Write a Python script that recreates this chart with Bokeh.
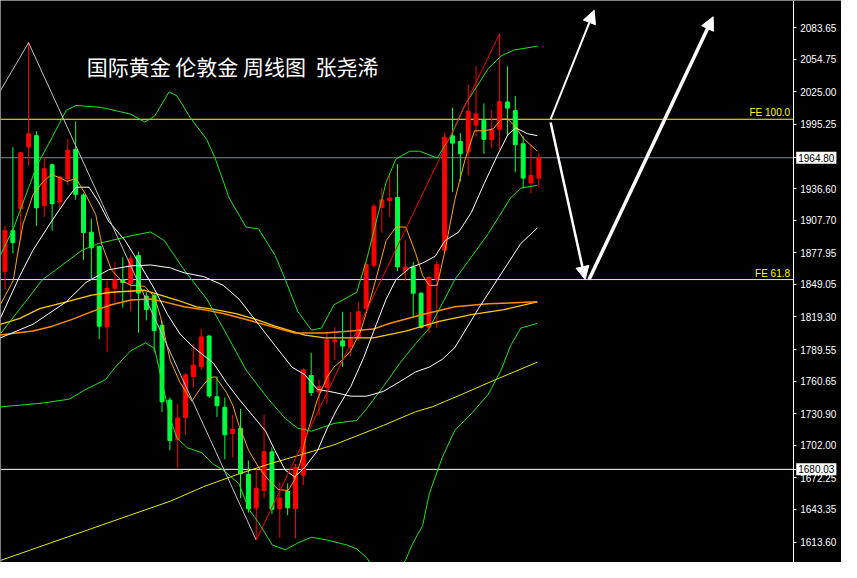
from bokeh.plotting import figure
from bokeh.models import (Range1d, Label, Arrow, NormalHead, FixedTicker,
                          NumeralTickFormatter, ColumnDataSource)
from bokeh.embed import file_html
from bokeh.resources import INLINE

# ---------------- candle data (weekly XAUUSD) ----------------
opens = [1860.6, 1898.2, 1918.1, 1974.6, 1985.0, 1921.0, 1958.4, 1924.3, 1945.6, 1972.3,
         1930.8, 1896.8, 1883.7, 1810.2, 1845.5, 1853.2, 1849.9, 1875.4, 1838.4, 1838.8,
         1811.7, 1743.3, 1707.1, 1727.3, 1764.9, 1773.8, 1801.9, 1746.4, 1736.8, 1712.8,
         1717.6, 1675.5, 1644.7, 1660.7, 1696.0, 1644.0, 1659.8, 1644.0, 1674.6, 1765.8,
         1750.7, 1755.0, 1796.6, 1797.5, 1792.2, 1800.4, 1827.1, 1866.5, 1919.5, 1925.8,
         1928.4, 1861.2, 1865.0, 1841.0, 1809.9, 1853.8, 1880.4, 1984.8, 1979.7, 1970.2,
         1994.6, 1999.0, 1981.2, 1990.6, 2015.8, 2007.9, 1977.6, 1941.8, 1946.2]
highs = [1902.6, 1974.4, 1969.9, 2070.0, 1989.2, 1965.5, 1959.5, 1948.0, 1981.7, 1998.1,
         1932.3, 1909.2, 1884.5, 1852.6, 1869.5, 1873.9, 1875.7, 1879.0, 1841.9, 1840.4,
         1815.3, 1745.7, 1739.8, 1767.9, 1794.6, 1808.4, 1802.6, 1764.9, 1745.7, 1730.0,
         1735.3, 1688.0, 1680.2, 1730.0, 1700.4, 1668.7, 1667.2, 1684.9, 1772.4, 1786.6,
         1762.0, 1804.0, 1809.9, 1824.0, 1824.0, 1833.0, 1869.5, 1922.5, 1936.8, 1948.6,
         1959.0, 1889.3, 1869.5, 1841.9, 1856.8, 1870.1, 1987.7, 2010.4, 1987.4, 2031.5,
         2048.4, 2014.4, 2008.7, 2078.3, 2048.4, 2021.2, 1984.8, 1976.7, 1969.3]
lows = [1844.9, 1877.5, 1889.3, 1957.4, 1902.6, 1910.6, 1898.2, 1917.5, 1939.7, 1926.4,
        1871.5, 1852.9, 1799.0, 1787.1, 1832.2, 1827.7, 1824.2, 1804.9, 1816.2, 1786.9,
        1732.4, 1697.4, 1681.4, 1711.6, 1754.6, 1770.9, 1745.1, 1728.0, 1689.4, 1690.9,
        1653.8, 1640.5, 1615.4, 1653.5, 1639.1, 1617.4, 1638.2, 1616.9, 1665.7, 1747.1,
        1729.4, 1739.8, 1779.7, 1773.7, 1783.5, 1797.5, 1825.1, 1864.2, 1896.1, 1910.6,
        1861.2, 1852.3, 1818.2, 1808.8, 1804.9, 1809.3, 1878.4, 1933.7, 1943.2, 1948.6,
        1984.1, 1968.4, 1973.7, 1972.3, 1985.0, 1951.5, 1936.8, 1932.3, 1938.2]
closes = [1898.2, 1887.3, 1969.3, 1986.8, 1919.0, 1954.8, 1922.8, 1947.1, 1971.7, 1931.4,
          1896.4, 1882.5, 1810.9, 1845.5, 1853.2, 1850.8, 1872.4, 1841.1, 1826.2, 1806.8,
          1741.8, 1706.3, 1727.0, 1766.4, 1775.3, 1801.1, 1747.1, 1738.2, 1711.6, 1716.6,
          1676.1, 1644.0, 1662.7, 1696.2, 1643.5, 1653.8, 1644.9, 1682.0, 1770.9, 1750.2,
          1755.4, 1798.4, 1798.1, 1792.7, 1798.7, 1824.0, 1867.1, 1920.4, 1926.4, 1927.9,
          1865.0, 1865.0, 1841.0, 1809.9, 1855.3, 1867.1, 1983.5, 1978.1, 1968.4, 2007.2,
          2004.9, 1981.7, 1990.1, 2016.1, 2010.2, 1976.7, 1946.2, 1948.6, 1964.8]

# ---------------- indicator lines (bar index, price) ----------------
ma5_idx = [-0.6, 1.05, 1.55, 2.3, 3.55, 4.8, 5.9, 7.2, 7.9, 9.05, 10.3, 11.55, 12.3, 13.55, 14.8,
           16.05, 17.8, 19.05, 19.8, 21.05, 22.3, 23.8, 24.8, 26.05, 26.8, 28.2, 29.05, 29.8,
           31.05, 32.3, 33.55, 34.8, 36.05, 36.9, 37.8, 38.2, 39.8, 41.05, 41.9, 43.2, 44.05,
           45.3, 46.55, 47.8, 48.55, 49.8, 51.05, 52.3, 53.2, 54.05, 55.05, 56.05, 57.3, 58.55,
           59.8, 61.05, 62.2, 63.2, 64.05, 65.05, 66.05, 67.8]
ma5_val = [1830.4, 1852.6, 1874.8, 1904.2, 1930.8, 1942.4, 1949.5, 1945.9, 1943.2, 1945.9,
           1930.8, 1913.0, 1886.4, 1862.4, 1852.6, 1848.2, 1847.3, 1837.5, 1819.7, 1779.7,
           1759.3, 1742.4, 1753.1, 1763.8, 1764.6, 1750.4, 1738.0, 1720.2, 1697.1, 1682.0,
           1670.5, 1661.6, 1660.7, 1670.5, 1690.9, 1706.0, 1744.2, 1764.6, 1773.5, 1781.5,
           1788.6, 1806.4, 1835.7, 1868.6, 1889.1, 1901.5, 1901.5, 1877.5, 1857.0, 1848.2,
           1848.2, 1880.2, 1926.4, 1961.9, 1989.4, 1989.4, 1991.2, 2000.1, 2000.1, 1993.0,
           1982.4, 1970.8]

ma10_idx = [-0.6, 1.9, 3.55, 5.7, 7.8, 9.05, 10.7, 11.9, 13.2, 15.3, 17.3, 19.05, 20.7, 22.3,
            24.05, 26.55, 28.2, 29.8, 31.55, 33.2, 34.4, 35.7, 36.9, 38.2, 39.8, 41.05, 42.3,
            44.05, 45.7, 47.3, 48.55, 49.8, 51.55, 53.2, 54.8, 56.05, 57.8, 59.4, 61.05, 62.8,
            64.05, 65.05, 66.55, 67.8]
ma10_val = [1818.0, 1857.0, 1880.2, 1904.2, 1926.4, 1937.9, 1937.9, 1924.6, 1906.8, 1889.1,
            1866.0, 1844.6, 1821.5, 1803.7, 1791.3, 1777.1, 1759.3, 1744.2, 1729.1, 1714.9,
            1697.1, 1679.3, 1673.1, 1682.0, 1697.1, 1717.6, 1735.3, 1755.8, 1782.4, 1812.6,
            1835.7, 1853.5, 1864.2, 1868.6, 1874.8, 1889.1, 1897.0, 1914.8, 1941.5, 1968.1,
            1985.9, 1992.1, 1986.8, 1985.0]

ma30_idx = [-0.6, 3.55, 7.8, 10.3, 13.2, 16.05, 18.55, 21.05, 22.8, 25.3, 27.8, 29.8, 32.3,
            34.4, 36.55, 38.2, 39.8, 41.9, 44.05, 46.05, 48.2, 50.3, 52.3, 54.05, 55.7, 57.3,
            60.3, 63.2, 65.7, 67.8]
ma30_val = [1800.2, 1812.6, 1833.1, 1850.8, 1862.4, 1866.0, 1866.8, 1864.2, 1859.7, 1856.2,
            1848.2, 1835.7, 1812.6, 1793.1, 1773.5, 1766.4, 1753.1, 1750.4, 1746.9, 1746.9,
            1751.3, 1760.2, 1769.1, 1773.5, 1780.6, 1791.3, 1826.9, 1858.8, 1886.4, 1900.6]

bb_up_idx = [-0.6, 1.05, 4.05, 6.05, 7.8, 9.05, 12.3, 16.05, 17.8, 19.05, 20.9, 21.9, 23.55,
             25.7, 26.8, 28.55, 30.7, 32.3, 34.4, 35.7, 37.3, 39.05, 40.3, 41.9, 44.8, 46.05,
             47.3, 48.55, 49.8, 51.55, 52.8, 55.05, 56.9, 58.55, 61.55, 63.2, 64.8, 67.8]
bb_up_val = [1875.7, 1899.7, 1957.5, 1984.1, 2008.1, 2012.6, 2010.8, 2004.6, 1997.5, 2002.8,
             2025.0, 2021.4, 2001.9, 1981.5, 1963.7, 1928.1, 1901.5, 1899.7, 1875.7, 1853.5,
             1824.2, 1807.3, 1809.1, 1830.4, 1841.9, 1871.3, 1906.8, 1942.4, 1963.7, 1970.8,
             1970.8, 1964.6, 1985.9, 2012.6, 2046.3, 2057.9, 2063.2, 2066.8]

bb_mid_idx = [-0.6, 4.8, 9.8, 11.9, 16.05, 18.55, 20.3, 22.8, 25.7, 28.2, 30.7, 33.55, 35.7,
              37.3, 39.05, 41.9, 44.8, 46.05, 48.2, 50.3, 52.3, 54.05, 57.3, 61.55, 64.4,
              65.7, 67.8]
bb_mid_val = [1803.7, 1853.5, 1880.2, 1886.4, 1893.5, 1897.0, 1889.1, 1862.4, 1835.7, 1803.7,
              1770.9, 1744.2, 1726.4, 1717.6, 1714.9, 1722.0, 1724.7, 1735.3, 1755.8, 1777.1,
              1794.9, 1809.1, 1853.5, 1895.3, 1928.1, 1937.0, 1939.7]

bb_low_idx = [-0.6, 4.8, 8.2, 10.3, 12.8, 14.05, 16.05, 17.9, 19.05, 21.05, 21.9, 23.2, 25.05,
              26.55, 27.8, 29.8, 31.05, 32.3, 34.05, 35.7, 37.3, 39.05, 41.05, 43.55, 44.8,
              46.05, 48.55, 49.8, 51.05, 51.9, 53.2, 54.05, 55.7, 57.3, 59.4, 61.55, 63.2,
              64.4, 65.7, 67.8]
bb_low_val = [1737.1, 1740.6, 1744.2, 1753.1, 1762.0, 1773.5, 1788.6, 1795.7, 1790.4, 1726.4,
              1708.7, 1699.8, 1695.3, 1684.7, 1679.3, 1666.9, 1643.8, 1631.3, 1610.9, 1606.5,
              1612.7, 1618.0, 1615.4, 1610.9, 1607.3, 1599.4, 1572.7, 1581.6, 1597.6, 1611.8,
              1628.7, 1658.0, 1690.9, 1715.8, 1730.9, 1748.6, 1770.9, 1793.1, 1809.1, 1813.5]

ma60_idx = [-0.6, 3.55, 6.05, 8.55, 11.05, 13.55, 16.05, 18.55, 20.3, 22.8, 25.3, 27.8, 31.55,
            36.9, 40.7, 44.05, 46.9, 49.05, 53.2, 57.3, 61.55, 67.8]
ma60_val = [1802.8, 1806.4, 1810.9, 1817.1, 1824.2, 1830.4, 1834.8, 1835.7, 1833.1, 1828.6,
            1826.0, 1822.4, 1815.3, 1804.6, 1804.6, 1806.4, 1808.2, 1813.5, 1821.5, 1828.6,
            1831.3, 1833.1]

ma40_idx = [-0.6, 1.9, 4.4, 7.8, 11.05, 13.55, 17.8, 19.4, 21.9, 24.4, 26.8, 29.4, 31.95, 34.4,
            38.2, 40.7, 46.9, 51.05, 55.3, 59.4, 63.55, 67.8]
ma40_val = [1812.6, 1818.0, 1826.9, 1833.1, 1839.3, 1841.9, 1843.7, 1840.2, 1834.8, 1828.6,
            1826.0, 1822.4, 1817.1, 1810.9, 1802.8, 1800.2, 1800.2, 1806.4, 1815.3, 1821.5,
            1826.0, 1833.1]

ma120_idx = [-0.6, 15.7, 21.05, 25.3, 29.4, 33.55, 37.8, 41.9, 48.2, 52.3, 54.4, 58.2, 61.9, 67.8]
ma120_val = [1596.7, 1637.6, 1650.9, 1664.2, 1674.9, 1684.7, 1693.6, 1702.4, 1720.2, 1732.7,
             1737.1, 1748.6, 1760.2, 1778.0]

zig_gray_idx = [-0.6, 3, 32]
zig_gray_val = [2025.9, 2070.0, 1615.4]
zig_red_idx = [32, 63]
zig_red_val = [1615.4, 2078.3]

# price levels
fe100 = 2000.0
fe618 = 1853.5
last_price = 1964.80
level_low = 1680.03
axis_ticks = [2083.65, 2054.75, 2025.00, 1995.25, 1964.80, 1936.60, 1907.70, 1877.95,
              1849.05, 1819.30, 1789.55, 1760.65, 1730.90, 1702.00, 1680.03, 1672.25,
              1643.35, 1613.60]

# projected path (hand-drawn arrows): start/end in (bar index, price)
arrows = [
    ((69.5, 2000.0), (75.05, 2099.6), 2.0),
    ((69.5, 1997.0), (73.9, 1853.5), 2.5),
    ((74.4, 1853.5), (90.2, 2093.7), 3.5),
]

title_text = "国际黄金 伦敦金 周线图\u00a0\u00a0张尧浠"

# ---------------- figure ----------------
X0, XAX, X1 = -0.575, 100.4, 106.55   # left edge, price-axis position, right edge
p = figure(width=841, height=562, output_backend="svg", toolbar_location=None,
           x_range=Range1d(X0, X1), y_range=Range1d(1594.9, 2108.53),
           x_axis_location=None, y_axis_location="right",
           background_fill_color="black", border_fill_color="black",
           min_border_left=0, min_border_top=0, min_border_bottom=0, min_border_right=0)
p.outline_line_color = None
p.grid.visible = False

ax = p.yaxis[0]
ax.fixed_location = XAX
ax.ticker = FixedTicker(ticks=axis_ticks)
ax.formatter = NumeralTickFormatter(format="0.00")
ax.axis_line_color = "white"
ax.major_tick_line_color = "white"
ax.minor_tick_line_color = None
ax.major_tick_in = 0
ax.major_tick_out = 3
ax.major_label_standoff = 4
ax.major_label_text_color = "white"
ax.major_label_text_font = "Liberation Sans"
ax.major_label_text_font_size = "10px"

idx = list(range(len(opens)))
up = [c >= o for o, c in zip(opens, closes)]
colors = ["#ff0000" if u else "#00ff40" for u in up]
src = ColumnDataSource(dict(
    x=idx, o=opens, h=highs, l=lows, c=closes,
    top=[max(o, c) for o, c in zip(opens, closes)],
    bot=[min(o, c) for o, c in zip(opens, closes)],
    col=colors))

# horizontal levels (stop at the price axis)
levels = [last_price, level_low, fe100, fe618]
level_colors = ["#7a8a9a", "white", "#ffff00", "#ffff00"]
p.segment(x0=[X0] * 4, x1=[XAX] * 4, y0=levels, y1=levels, line_color=level_colors,
          line_width=1)

p.segment(x0="x", y0="l", x1="x", y1="h", color="col", line_width=1, source=src)
p.vbar(x="x", top="top", bottom="bot", width=0.5, fill_color="col", line_color="col",
       line_width=1, source=src)

# indicators
p.line(ma120_idx, ma120_val, line_color="#e8e800", line_width=1)
p.line(ma40_idx, ma40_val, line_color="#ffc800", line_width=1.3)
p.line(ma60_idx, ma60_val, line_color="#ff8c00", line_width=1.5)
p.line(bb_up_idx, bb_up_val, line_color="#19e619", line_width=1)
p.line(bb_mid_idx, bb_mid_val, line_color="#19e619", line_width=1)
p.line(bb_low_idx, bb_low_val, line_color="#19e619", line_width=1)
p.line(ma30_idx, ma30_val, line_color="white", line_width=1)
p.line(ma10_idx, ma10_val, line_color="white", line_width=1)
p.line(ma5_idx, ma5_val, line_color="#ffa500", line_width=1)
p.line(zig_gray_idx, zig_gray_val, line_color="#c0c0c0", line_width=1)
p.line(zig_red_idx, zig_red_val, line_color="#ff0000", line_width=1)

for (x0, y0), (x1, y1), w in arrows:
    p.add_layout(Arrow(end=NormalHead(size=13, fill_color="white", line_color="white"),
                       x_start=x0, y_start=y0, x_end=x1, y_end=y1,
                       line_color="white", line_width=w))

# texts
p.add_layout(Label(x=10.4, y=2049.0, text=title_text, text_color="white",
                   text_font="Noto Sans CJK SC", text_font_size="21px",
                   text_baseline="middle", text_align="left"))
p.add_layout(Label(x=100.0, y=fe100, y_offset=1, text="FE 100.0", text_color="#ffff00",
                   text_font="Liberation Sans", text_font_size="10px",
                   text_align="right", text_baseline="bottom"))
p.add_layout(Label(x=100.0, y=fe618, y_offset=1, text="FE 61.8", text_color="#ffff00",
                   text_font="Liberation Sans", text_font_size="10px",
                   text_align="right", text_baseline="bottom"))
for lv, txt in [(last_price, "1964.80"), (level_low, "1680.03")]:
    p.add_layout(Label(x=XAX, y=lv, x_offset=3, text=txt, text_color="black",
                       text_font="Liberation Sans", text_font_size="10px",
                       text_baseline="middle", text_align="left",
                       background_fill_color="white", padding=2))

open("out.html", "w").write(file_html(p, INLINE))
